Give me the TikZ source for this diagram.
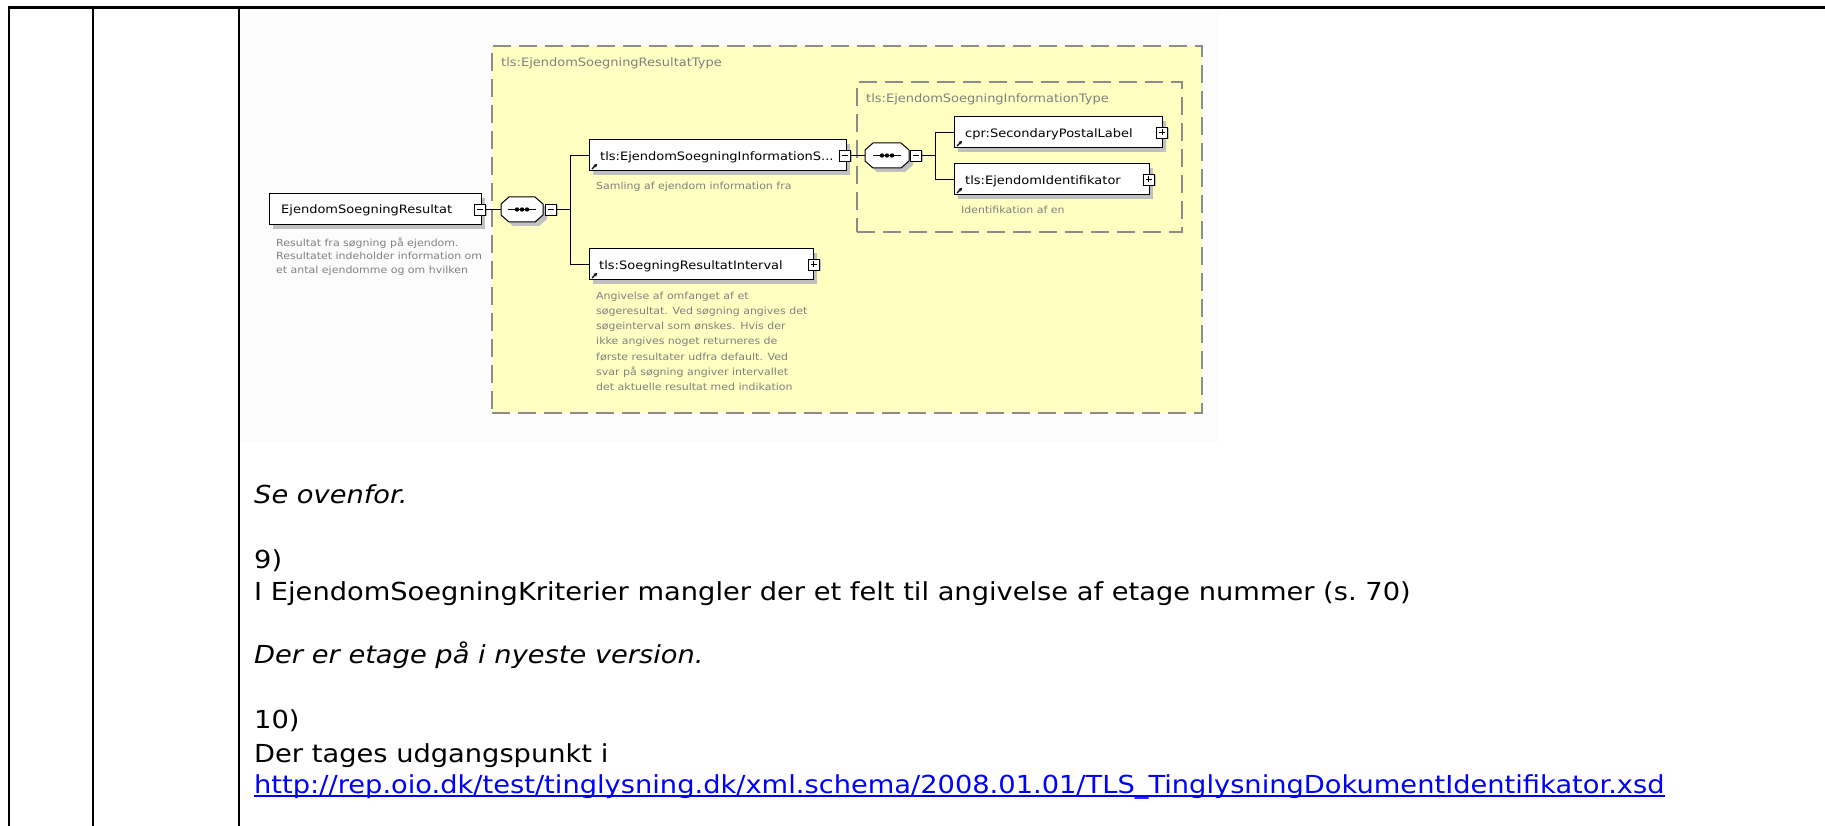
\documentclass[tikz,border=0pt]{standalone}
\usepackage{fontspec}
\setmainfont[FakeStretch=1.10]{DejaVu Sans}
\newfontfamily\xsf[FakeStretch=1.12]{DejaVu Sans}
\usetikzlibrary{shadows,calc,arrows.meta}
\definecolor{xyellow}{RGB}{255,255,194}
\definecolor{xgray}{RGB}{128,128,128}
\definecolor{dashgray}{RGB}{140,140,140}
\definecolor{shadowgray}{RGB}{192,192,192}
\definecolor{imgbg}{RGB}{252,252,252}
\definecolor{linkblue}{RGB}{0,0,255}
\newcommand{\octa}[3]{($(#1.north west)+(8+#2,#3)$) -- ($(#1.north east)+(-8+#2,#3)$) -- ($(#1.north east)+(#2,7+#3)$) -- ($(#1.south east)+(#2,-7+#3)$) -- ($(#1.south east)+(-8+#2,#3)$) -- ($(#1.south west)+(8+#2,#3)$) -- ($(#1.south west)+(#2,-7+#3)$) -- ($(#1.north west)+(#2,7+#3)$) -- cycle}
\newcommand{\seqbox}[1]{%
  \fill[shadowgray] \octa{#1}{4}{4};
  \filldraw[fill=white, draw=black, line width=1pt] \octa{#1}{0}{0};
  \draw[line width=1.2pt] ($(#1.center)+(-14,0)$) -- ($(#1.center)+(14,0)$);
  \fill ($(#1.center)$) circle (2.2);
  \fill ($(#1.center)+(-5,0)$) circle (2.2);
  \fill ($(#1.center)+(5,0)$) circle (2.2);}
\begin{document}
\begin{tikzpicture}[x=1pt,y=-1pt,
  tline/.style={line width=2.2pt, black},
  group/.style={draw=dashgray, line width=1.3pt, dash pattern=on 18pt off 8pt, fill=xyellow, inner sep=0pt, outer sep=0pt, anchor=north west},
  ingroup/.style={draw=dashgray, line width=1.3pt, dash pattern=on 18pt off 8pt, inner sep=0pt, outer sep=0pt, anchor=north west},
  eshadow/.style={drop shadow={shadow xshift=4pt, shadow yshift=-4pt, fill=shadowgray, opacity=1}},
  ebox/.style={draw=black, line width=1pt, fill=white, inner sep=0pt, outer sep=0pt, anchor=north west, eshadow},
  refbox/.style={ebox, path picture={\draw[-{Stealth[length=3.5pt,width=4pt]}, line width=1.2pt] ([shift={(3pt,2pt)}]path picture bounding box.south west) -- ++(5pt,5pt);}},
  tog/.style={draw=black, fill=white, line width=0.9pt, minimum size=11pt, inner sep=0pt, outer sep=0pt,
    drop shadow={shadow xshift=1.5pt, shadow yshift=-1.5pt, fill=shadowgray, opacity=1}},
  togminus/.style={tog, path picture={\draw[line width=0.9pt] ([xshift=2.5pt]path picture bounding box.west) -- ([xshift=-2.5pt]path picture bounding box.east);}},
  togplus/.style={tog, path picture={\draw[line width=0.9pt] ([xshift=2.5pt]path picture bounding box.west) -- ([xshift=-2.5pt]path picture bounding box.east);
     \draw[line width=0.9pt] ([yshift=-2.5pt]path picture bounding box.north) -- ([yshift=2.5pt]path picture bounding box.south);}},
  compbox/.style={draw=none, minimum width=42pt, minimum height=25pt, inner sep=0pt, outer sep=0pt},
  conn/.style={line width=1pt, black},
  ename/.style={font=\xsf\fontsize{11.6}{14}\selectfont, inner sep=0pt, anchor=base west},
  gtitle/.style={font=\xsf\fontsize{11.6}{14}\selectfont, text=xgray, inner sep=0pt, anchor=base west},
  edesc/.style={font=\xsf\fontsize{9.8}{12}\selectfont, text=xgray, inner sep=0pt, anchor=base west},
  mtext/.style={font=\fontsize{24.8}{30}\selectfont, inner sep=0pt, anchor=base west},
]
\useasboundingbox (0,0) rectangle (1825,826);
\fill[white] (0,0) rectangle (1825,826);
\fill[imgbg] (240,9) rectangle (1219,442);

% table rules
\draw[tline] (7.9,7.5) -- (1825,7.5);
\draw[tline] (9,6.4) -- (9,826);
\draw[tline] (93,6.4) -- (93,826);
\draw[tline] (239,6.4) -- (239,826);

% groups
\node[group, minimum width=710pt, minimum height=367pt] (grpA) at (492,46) {};
\node[gtitle] (grpAt) at (501,67) {tls:EjendomSoegningResultatType};
\node[ingroup, minimum width=325pt, minimum height=150pt] (grpB) at (857,82) {};
\node[gtitle] (grpBt) at (866,103) {tls:EjendomSoegningInformationType};

% root element
\node[ebox, minimum width=212pt, minimum height=31pt] (root) at (269,194) {};
\node[ename] (rootl) at (281,214) {EjendomSoegningResultat};
\node[togminus] (rootm) at (480,209.5) {};
\node[edesc] (rootd1) at (276,246.5) {Resultat fra søgning på ejendom.};
\node[edesc] (rootd2) at (276,260) {Resultatet indeholder information om};
\node[edesc] (rootd3) at (276,273.5) {et antal ejendomme og om hvilken};

% sequence 1
\node[compbox] (c1) at (522,209.5) {};
\seqbox{c1}
\node[togminus] (c1m) at (550.5,209.5) {};
\coordinate (b1) at (570,209.5);

% element: information
\node[refbox, minimum width=257pt, minimum height=31pt] (e1) at (589,140) {};
\node[ename] (e1l) at (600,160.5) {tls:EjendomSoegningInformationS...};
\node[togminus] (e1m) at (844.5,155.5) {};
\node[edesc] (e1d) at (596,190) {Samling af ejendom information fra};

% element: interval
\node[refbox, minimum width=224pt, minimum height=31pt] (e3) at (589,249) {};
\node[ename] (e3l) at (599,269.5) {tls:SoegningResultatInterval};
\node[togplus] (e3p) at (813.5,264.5) {};
\node[edesc] (e3d1) at (596,299) {Angivelse af omfanget af et};
\node[edesc] (e3d2) at (596,314.3) {søgeresultat. Ved søgning angives det};
\node[edesc] (e3d3) at (596,329.6) {søgeinterval som ønskes. Hvis der};
\node[edesc] (e3d4) at (596,344.9) {ikke angives noget returneres de};
\node[edesc] (e3d5) at (596,360.2) {første resultater udfra default. Ved};
\node[edesc] (e3d6) at (596,375.5) {svar på søgning angiver intervallet};
\node[edesc] (e3d7) at (596,390.8) {det aktuelle resultat med indikation};

% sequence 2
\node[compbox, minimum width=44pt] (c2) at (887,155.5) {};
\seqbox{c2}
\node[togminus] (c2m) at (916,155.5) {};
\coordinate (b2) at (935,155.5);

% element: cpr
\node[refbox, minimum width=208pt, minimum height=31pt] (e2a) at (954,117) {};
\node[ename] (e2al) at (965,137.5) {cpr:SecondaryPostalLabel};
\node[togplus] (e2ap) at (1162,132.5) {};

% element: identifikator
\node[refbox, minimum width=195pt, minimum height=31pt] (e2b) at (954,164) {};
\node[ename] (e2bl) at (965,184.5) {tls:EjendomIdentifikator};
\node[togplus] (e2bp) at (1148.5,179.5) {};
\node[edesc] (e2bd) at (961,214) {Identifikation af en};

% connectors
\draw[conn] (rootm.east) -- (c1.west);
\draw[conn] (c1m.east) -- (b1);
\draw[conn] (b1) |- (e1.west);
\draw[conn] (b1) |- (e3.west);
\draw[conn] (e1m.east) -- (c2.west);
\draw[conn] (c2m.east) -- (b2);
\draw[conn] (b2) |- (e2a.west);
\draw[conn] (b2) |- (e2b.west);

% body text
\node[mtext] (t1) at (254,503) {\itshape Se ovenfor.};
\node[mtext] (t2) at (254,568) {9)};
\node[mtext] (t3) at (254,600) {I EjendomSoegningKriterier mangler der et felt til angivelse af etage nummer (s.~70)};
\node[mtext] (t4) at (254,663) {\itshape Der er etage på i nyeste version.};
\node[mtext] (t5) at (254,728) {10)};
\node[mtext] (t6) at (254,762) {Der tages udgangspunkt i};
\node[mtext, text=linkblue] (t7) at (254,793) {http://rep.oio.dk/test/tinglysning.dk/xml.schema/2008.01.01/TLS\_TinglysningDokumentIdentifikator.xsd};
\draw[linkblue, line width=1.5pt] ([yshift=-3.2pt]t7.base west) -- ([yshift=-3.2pt]t7.base east);
\end{tikzpicture}
\end{document}
